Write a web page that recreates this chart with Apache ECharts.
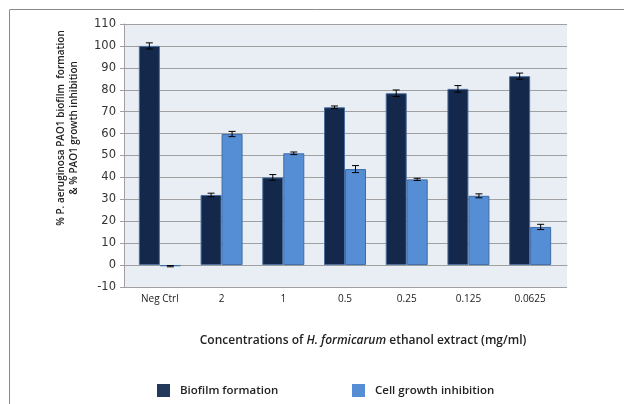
<!DOCTYPE html>
<html>
<head>
<meta charset="utf-8">
<script src="https://cdn.jsdelivr.net/npm/echarts@6/dist/echarts.min.js"></script>
<style>
  html, body { margin: 0; padding: 0; background: #ffffff; }
  #chart { width: 624px; height: 404px; }
</style>
</head>
<body>
<div id="chart"></div>
<script>
// Extract concentrations (mg/ml) plus the negative control
const categories = ['Neg Ctrl', '2', '1', '0.5', '0.25', '0.125', '0.0625'];

// % biofilm formation and its standard error
const biofilm = [100, 32, 40, 72, 78.4, 80.4, 86.2];
const biofilmErr = [1.4, 0.8, 1.3, 0.6, 1.5, 1.5, 1.4];

// % cell growth inhibition and its standard error
const growth = [-0.5, 59.8, 51, 43.8, 39.1, 31.6, 17.4];
const growthErr = [0.3, 1.2, 0.6, 1.6, 0.5, 0.9, 1.2];

// Value axis ticks
const yMin = -10, yMax = 110, yStep = 10;

const BAR_W = 21;
const dark = '#13284A';
const light = '#558ED5';

function errorSeries(values, errs, offset) {
  return {
    type: 'custom',
    xAxisIndex: 1,
    yAxisIndex: 1,
    silent: true,
    z: 10,
    data: values.map((v, i) => [i, v, errs[i]]),
    renderItem: function (params, api) {
      const i = api.value(0), v = api.value(1), e = api.value(2);
      const top = api.coord([i, v + e]);
      const bot = api.coord([i, v - e]);
      const x = top[0] + offset;
      const cap = 3.5;
      const style = { stroke: '#000', lineWidth: 1 };
      return {
        type: 'group',
        children: [
          { type: 'line', shape: { x1: x, y1: top[1], x2: x, y2: bot[1] }, style },
          { type: 'line', shape: { x1: x - cap, y1: top[1], x2: x + cap, y2: top[1] }, style },
          { type: 'line', shape: { x1: x - cap, y1: bot[1], x2: x + cap, y2: bot[1] }, style }
        ]
      };
    }
  };
}

const chart = echarts.init(document.getElementById('chart'), null, { renderer: 'canvas' });

const legendText = { fontFamily: 'Open Sans', fontWeight: 600, fontSize: 11.5, color: '#222', padding: [0, 0, 0, 5] };

chart.setOption({
  animation: false,
  backgroundColor: '#ffffff',
  grid: [
    { left: 124, top: 24, width: 443, height: 263, show: true, backgroundColor: '#E9EDF4', borderWidth: 0 },
    { left: 129, top: 24, width: 432, height: 263 }
  ],
  xAxis: [
    {
      type: 'category', gridIndex: 0, data: categories,
      axisLine: { show: true, lineStyle: { color: '#a0a0a0', width: 1 } },
      axisTick: { show: false }, axisLabel: { show: false }, splitLine: { show: false }
    },
    {
      type: 'category', gridIndex: 1, data: categories,
      axisLine: { show: false }, axisTick: { show: false },
      axisLabel: { margin: 7, color: '#222', fontFamily: 'Open Sans', fontSize: 10 }
    }
  ],
  yAxis: [
    {
      type: 'value', gridIndex: 0, min: yMin, max: yMax, interval: yStep,
      axisLine: { show: true, lineStyle: { color: '#a0a0a0' } },
      axisTick: { show: true, length: 4, lineStyle: { color: '#a0a0a0' } },
      axisLabel: { margin: 8, color: '#333', fontFamily: 'DejaVu Sans', fontSize: 11.5 },
      splitLine: { show: true, lineStyle: { color: '#a0a0a0', width: 1 } }
    },
    {
      type: 'value', gridIndex: 1, min: yMin, max: yMax, interval: yStep, show: false,
      splitLine: { show: false }
    }
  ],
  legend: [
    {
      data: [{ name: 'Biofilm formation', itemStyle: { color: '#22395C' } }],
      left: 152, top: 379, itemWidth: 13, itemHeight: 13, icon: 'rect',
      itemStyle: { borderWidth: 0 }, textStyle: legendText
    },
    {
      data: ['Cell growth inhibition'], left: 347, top: 379, itemWidth: 13, itemHeight: 13, icon: 'rect',
      itemStyle: { borderWidth: 0 }, textStyle: legendText
    }
  ],
  series: [
    {
      name: 'Biofilm formation', type: 'bar', xAxisIndex: 1, yAxisIndex: 1,
      data: biofilm, barWidth: BAR_W, barGap: '0%',
      itemStyle: { color: dark, borderColor: '#4A6E9E', borderWidth: 1 }
    },
    {
      name: 'Cell growth inhibition', type: 'bar', xAxisIndex: 1, yAxisIndex: 1,
      data: growth, barWidth: BAR_W, barGap: '0%',
      itemStyle: { color: light, borderColor: '#3C6DAA', borderWidth: 1 }
    },
    errorSeries(biofilm, biofilmErr, -BAR_W / 2),
    errorSeries(growth, growthErr, BAR_W / 2)
  ],
  graphic: [
    // outer frame
    { type: 'line', shape: { x1: 9.5, y1: 10, x2: 9.5, y2: 404 }, style: { stroke: '#8a8a8a', lineWidth: 1 } },
    { type: 'line', shape: { x1: 9.5, y1: 9.5, x2: 624, y2: 9.5 }, style: { stroke: '#8a8a8a', lineWidth: 1 } },
    // value axis title
    {
      type: 'text', x: 67.5, y: 128, rotation: Math.PI / 2,
      style: {
        text: '% P. aeruginosa PAO1 biofilm  formation\n& % PAO1 growth inhibition',
        fontFamily: 'Open Sans', fontWeight: 600, fontSize: 10, lineHeight: 12.5,
        fill: '#222', align: 'center', verticalAlign: 'middle'
      }
    },
    // category axis title
    {
      type: 'text', x: 363, y: 341,
      style: {
        text: 'Concentrations of {i|H. formicarum} ethanol extract (mg/ml)',
        fontFamily: 'Open Sans', fontWeight: 600, fontSize: 12, fill: '#222',
        align: 'center', verticalAlign: 'middle',
        rich: { i: { fontFamily: 'Open Sans', fontWeight: 600, fontStyle: 'italic', fontSize: 12, fill: '#222' } }
      }
    }
  ]
});
</script>
</body>
</html>
